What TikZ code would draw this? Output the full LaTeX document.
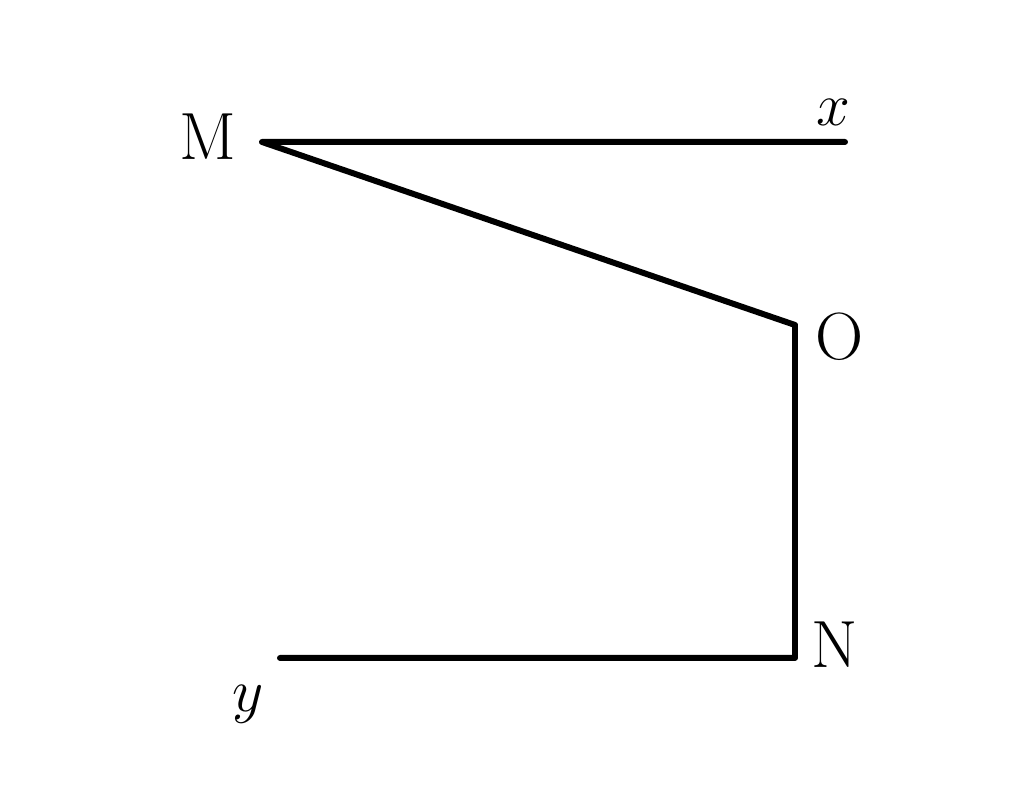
\documentclass[tikz,border=0pt]{standalone}
\usetikzlibrary{positioning}
\begin{document}
\begin{tikzpicture}[line width=1.7pt,line cap=round,line join=round]

	\useasboundingbox (0,0) rectangle (10.24,7.92);

	\coordinate (m) at (2.62,6.50);
	\coordinate (xe) at (8.45,6.50);
	\coordinate (o) at (7.95,4.67);
	\coordinate (n) at (7.95,1.34);
	\coordinate (ye) at (2.80,1.34);

	\begin{scope}[every node/.style={inner sep=0pt,font=\fontsize{19}{22}\selectfont}]
		\node (lm) at (2.08,6.55) {M};
		\node (lx) at (8.33,6.80) {\fontsize{16}{18}\selectfont$x$};
		\node (lo) at (8.40,4.55) {O};
		\node (ln) at (8.35,1.47) {N};
		\node (ly) at (2.48,0.88) {$y$};
	\end{scope}

	\draw (xe) -- (m) -- (o) -- (n) -- (ye);

\end{tikzpicture}
\end{document}
